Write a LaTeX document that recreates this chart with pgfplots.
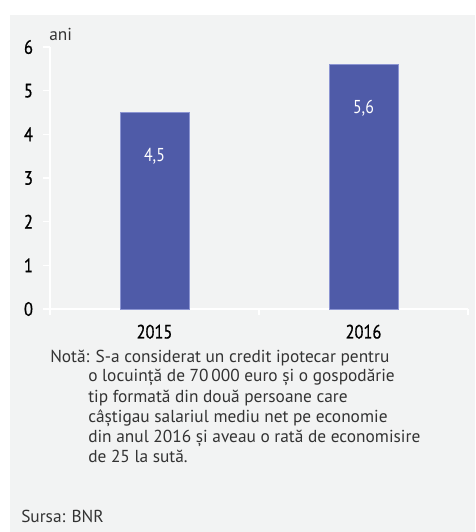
\documentclass[border=0pt]{standalone}
\usepackage{pgfplots}
\pgfplotsset{compat=1.18}
\usepackage{fontspec}
\setmainfont{PT Sans}
\newfontfamily\tickfont[FakeStretch=0.85]{PT Sans}
\newfontfamily\tickfontb[FakeStretch=0.85,FakeBold=0.8]{PT Sans}
\definecolor{bg}{HTML}{F2F3F3}
\definecolor{barc}{HTML}{4F5BA8}
\definecolor{bared}{HTML}{8C95D2}
\definecolor{txt}{HTML}{333333}
\begin{document}
\begin{tikzpicture}
\useasboundingbox (0pt,0pt) rectangle (356.25pt,-399pt);
\fill[bg] (7.5pt,-11.25pt) rectangle (356.25pt,-399pt);
\begin{axis}[
  at={(37.5pt,-231.75pt)}, anchor=south west, scale only axis,
  width=313.5pt, height=196.5pt,
  xmin=-0.5, xmax=1.5, ymin=0, ymax=6,
  axis x line=bottom, axis y line=left,
  axis line style={white, line width=1.1pt, -},
  xtick={0,1}, xticklabels={2015,2016},
  minor xtick={-0.5,0.5,1.5},
  ytick={0,1,2,3,4,5,6},
  tick align=outside,
  major tick length=5.25pt,
  minor tick length=4.5pt,
  major x tick style={draw=none},
  minor x tick style={white, line width=1.1pt},
  ytick style={white, line width=1.1pt},
  /pgf/number format/assume math mode=true,
  ticklabel style={font=\tickfontb\fontsize{14.5}{16}\selectfont, text=black},
  xticklabel style={yshift=-3pt},
  yticklabel style={xshift=-4pt},
  clip=false,
]
\addplot[ybar, bar width=51.75pt, fill=barc, draw=bared, line width=0.5pt,
  nodes near coords={\pgfmathprintnumber[use comma,fixed,precision=1]{\pgfplotspointmeta}},
  every node near coord/.append style={text=white, font=\tickfont\fontsize{14}{16}\selectfont, anchor=center, yshift=-33pt}
] coordinates {(0,4.5) (1,5.6)};
\end{axis}
\node[anchor=base west, text=txt, font=\fontsize{13}{15}\selectfont, inner sep=0pt] at (36.75pt,-30pt) {ani};
\node[anchor=base west, text=txt, font=\fontsize{13}{15}\selectfont, inner sep=0pt] at (37.5pt,-271.5pt) {Notă: S-a considerat un credit ipotecar pentru};
\node[anchor=north west, text=txt, font=\fontsize{13}{15}\selectfont, inner sep=0pt, align=left] at (66pt,-276.75pt) {o locuință de 70\,000 euro și o gospodărie\\[0.2pt] tip formată din două persoane care\\[0.2pt] câștigau salariul mediu net pe economie\\[0.2pt] din anul 2016 și aveau o rată de economisire\\[0.2pt] de 25 la sută.};
\node[anchor=base west, text=txt, font=\fontsize{13}{15}\selectfont, inner sep=0pt] at (15.75pt,-392pt) {Sursa: BNR};
\end{tikzpicture}
\end{document}
